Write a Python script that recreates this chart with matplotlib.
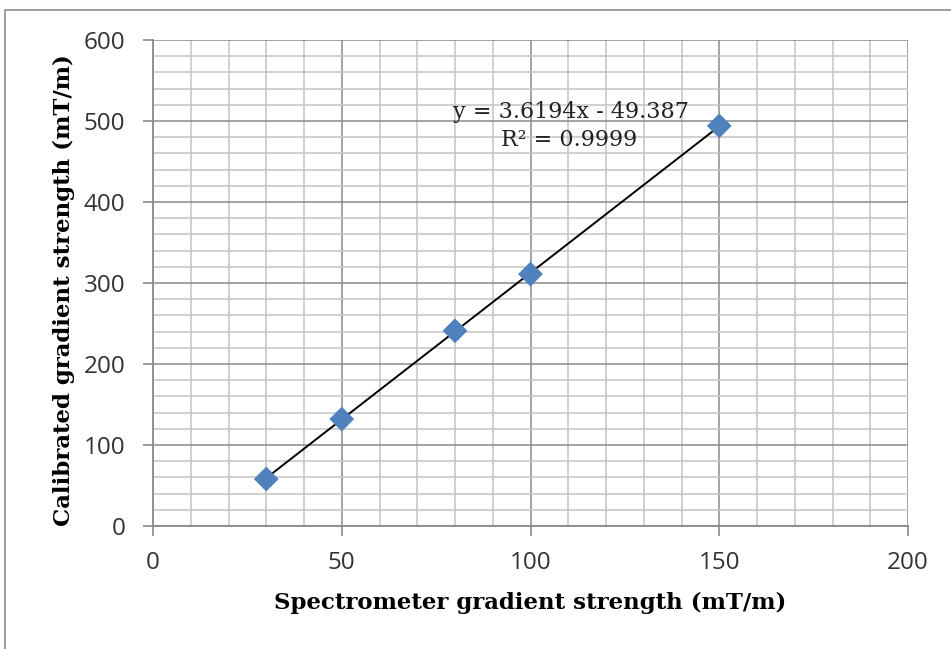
import matplotlib.pyplot as plt
from matplotlib.patches import Rectangle
from matplotlib.ticker import MultipleLocator

# calibration measurements
spectrometer = [30, 50, 80, 100, 150]
calibrated = [58, 132, 241, 311, 494]

# linear trendline
slope = 3.6194
intercept = -49.387
r_squared = 0.9999

plt.rcParams['font.family'] = ['Open Sans', 'DejaVu Sans']

fig = plt.figure(figsize=(9.51, 6.49), dpi=100)
ax = fig.add_axes([153 / 951, 1 - 526 / 649, 755 / 951, 486 / 649])

# outer chart frame
fig.patches.append(Rectangle((5 / 951, -0.1), 1.2, 1 - 10 / 649 + 0.1,
                             transform=fig.transFigure, fill=False,
                             edgecolor='#8c8c8c', linewidth=1.2))

ax.set_xlim(0, 200)
ax.set_ylim(0, 600)
ax.xaxis.set_major_locator(MultipleLocator(50))
ax.xaxis.set_minor_locator(MultipleLocator(10))
ax.yaxis.set_major_locator(MultipleLocator(100))
ax.yaxis.set_minor_locator(MultipleLocator(20))

ax.grid(which='major', color='#8a8a8a', linewidth=1.1)
ax.grid(which='minor', color='#c4c4c4', linewidth=1.1)
ax.set_axisbelow(True)

for side in ['top', 'right']:
    ax.spines[side].set_visible(False)
for side in ['left', 'bottom']:
    ax.spines[side].set_color('#8a8a8a')
    ax.spines[side].set_linewidth(1.3)

ax.tick_params(which='minor', length=0)
ax.tick_params(axis='x', which='major', length=7, width=1.2, color='#8a8a8a',
               labelsize=17.5, labelcolor='#333333', pad=11)
ax.tick_params(axis='y', which='major', length=7, width=1.2, color='#8a8a8a',
               labelsize=17.5, labelcolor='#333333', pad=13)

fit_x = [min(spectrometer), max(spectrometer)]
fit_y = [slope * v + intercept for v in fit_x]
ax.plot(fit_x, fit_y, color='black', linewidth=1.4, zorder=3)
ax.scatter(spectrometer, calibrated, marker='D', s=160, color='#4f81bd',
           edgecolors='none', zorder=4)

ax.text(110.7, 511, f"y = {slope}x - {-intercept}", ha='center', va='center',
        fontsize=16, family='DejaVu Serif', color='#222222')
ax.text(110.2, 476, f"R\u00b2 = {r_squared}", ha='center', va='center',
        fontsize=16, family='DejaVu Serif', color='#222222')

ax.set_xlabel("Spectrometer gradient strength (mT/m)", fontsize=16.5,
              fontweight='bold', family='DejaVu Serif')
ax.set_ylabel("Calibrated gradient strength (mT/m)", fontsize=16.5,
              fontweight='bold', family='DejaVu Serif')
ax.xaxis.set_label_coords(0.5, -0.136)
ax.yaxis.set_label_coords(-0.103, 0.486)

fig.savefig('out.png', dpi=100)
